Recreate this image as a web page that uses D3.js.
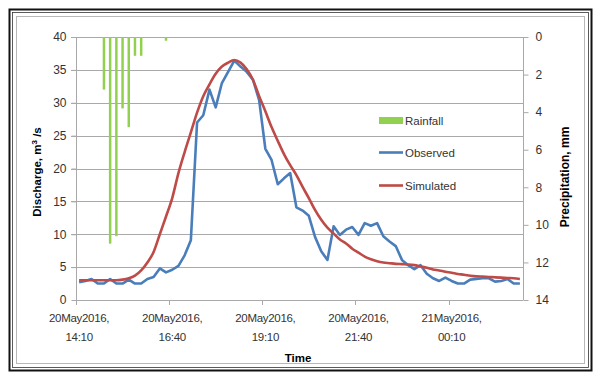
<!DOCTYPE html>
<html><head><meta charset="utf-8">
<script src="https://cdn.jsdelivr.net/npm/d3@7"></script>
<style>
html,body{margin:0;padding:0;background:#fff;}
svg{display:block;}
text{font-family:"Liberation Sans",Arial,sans-serif;}
</style></head>
<body>
<svg id="c" width="596" height="374"></svg>
<script>
// ---- data ----
const observed = [2.7,2.9,3.2,2.5,2.5,3.2,2.5,2.5,3.1,2.5,2.5,3.2,3.5,4.8,4.2,4.6,5.2,6.8,9.1,
  27,28.1,32,29.3,33,34.7,36.4,35.5,34.7,33.5,30.4,23,21.3,17.6,18.5,19.3,14.1,
  13.6,12.8,9.6,7.4,6.1,11.2,9.9,10.7,11.1,9.9,11.7,11.3,11.7,9.7,8.9,8.2,6.1,5.3,
  4.7,5.3,4.0,3.3,2.9,3.4,2.9,2.5,2.5,3.1,3.2,3.3,3.3,2.8,2.9,3.2,2.5,2.5];
const simulated = [3.0,3.0,3.0,3.0,3.0,3.0,3.0,3.1,3.3,3.7,4.5,5.7,7.3,10,12.7,15.5,19.3,22.5,25.5,
  28.5,31,32.8,34.4,35.5,36.1,36.5,36.1,35.1,33.5,31,28.7,26.3,24.2,22.2,20.5,19,
  17.2,15.5,13.7,12.2,11,10.1,9.2,8.6,7.8,7.2,6.6,6.2,5.9,5.7,5.6,5.5,5.45,5.4,
  5.3,5.1,4.9,4.65,4.5,4.3,4.15,3.95,3.85,3.7,3.6,3.55,3.5,3.45,3.4,3.35,3.3,3.2];
const rainfall = [0,0,0,0,2.8,11,10.6,3.8,4.8,1,1,0,0,0,0.2,0,0,0,0,
  0,0,0,0,0,0,0,0,0,0,0,0,0,0,0,0,0,
  0,0,0,0,0,0,0,0,0,0,0,0,0,0,0,0,0,0,
  0,0,0,0,0,0,0,0,0,0,0,0,0,0,0,0,0,0];
const xTickIdx = [0,15,30,45,60];
const xTickLabels = [["20May2016,","14:10"],["20May2016,","16:40"],["20May2016,","19:10"],["20May2016,","21:40"],["21May2016,","00:10"]];
const leftTicks = [0,5,10,15,20,25,30,35,40];
const rightTicks = [0,2,4,6,8,10,12,14];
const seriesNames = ["Rainfall","Observed","Simulated"];

// ---- layout ----
const svg = d3.select("#c");
const L = 76, R = 523, T = 37, B = 300;
const FS = "11.5px";
const cats = d3.range(observed.length);
const xb = d3.scaleBand().domain(cats).range([L, R]).paddingInner(0.6).paddingOuter(0.3);
const step = (R - L) / cats.length;
const xc = i => L + (i + 0.5) * step;
const yL = d3.scaleLinear().domain([0, 40]).range([B, T]);
const yR = d3.scaleLinear().domain([0, 14]).range([T, B]);

const colors = {rain:"#92D050", obs:"#4A7EBB", sim:"#BE4B48"};

// frames
svg.append("rect").attr("x",9.5).attr("y",9.5).attr("width",582).attr("height",361)
  .attr("fill","none").attr("stroke","#111").attr("stroke-width",2);
svg.append("rect").attr("x",12.5).attr("y",12.5).attr("width",576).attr("height",355)
  .attr("fill","none").attr("stroke","#333").attr("stroke-width",0.8);
svg.append("rect").attr("x",16.5).attr("y",16.5).attr("width",568).attr("height",347)
  .attr("fill","none").attr("stroke","#b8b8b8").attr("stroke-width",1);

// gridlines
svg.append("g").selectAll("line").data(leftTicks.filter(d=>d>0)).join("line")
  .attr("x1",L-5).attr("x2",R).attr("y1",d=>Math.round(yL(d))+0.5).attr("y2",d=>Math.round(yL(d))+0.5)
  .attr("stroke","#a9a9a9").attr("stroke-width",1);

// left axis
const gl = svg.append("g").attr("transform",`translate(${L+0.5},0)`)
  .call(d3.axisLeft(yL).tickValues(leftTicks).tickSize(5).tickPadding(5));
gl.select(".domain").attr("stroke","#a9a9a9").attr("d",`M0,${T}V${B}`);
gl.selectAll(".tick line").attr("stroke","#a9a9a9");
gl.selectAll(".tick text").attr("fill","#333").style("font-size","12px")
  .style("font-family",'"Liberation Sans",Arial,sans-serif');

// right axis
const gr = svg.append("g").attr("transform",`translate(${R+0.5},0)`)
  .call(d3.axisRight(yR).tickValues(rightTicks).tickSize(5).tickPadding(7));
gr.select(".domain").attr("stroke","#a9a9a9").attr("d",`M0,${T}V${B}`);
gr.selectAll(".tick line").attr("stroke","#a9a9a9");
gr.selectAll(".tick text").attr("fill","#333").style("font-size","12px")
  .style("font-family",'"Liberation Sans",Arial,sans-serif');

// bottom axis
svg.append("line").attr("x1",L).attr("x2",R).attr("y1",B+0.5).attr("y2",B+0.5).attr("stroke","#a9a9a9");
svg.append("g").selectAll("line").data(xTickIdx).join("line")
  .attr("x1",d=>Math.round(L+d*step)+0.5).attr("x2",d=>Math.round(L+d*step)+0.5)
  .attr("y1",B).attr("y2",B+5).attr("stroke","#a9a9a9");
const xl = svg.append("g").selectAll("text").data(xTickIdx).join("text")
  .attr("x",d=>xc(d)).attr("y",322).attr("text-anchor","middle")
  .attr("fill","#333").style("font-size",FS).style("letter-spacing","-0.3px");
xl.append("tspan").attr("x",d=>xc(d)).attr("dy",0).text((d,i)=>xTickLabels[i][0]);
xl.append("tspan").attr("x",d=>xc(d)).attr("dy",19).text((d,i)=>xTickLabels[i][1]);

// rainfall bars
svg.append("g").selectAll("rect").data(cats.filter(i=>rainfall[i]>0)).join("rect")
  .attr("x",i=>xb(i)).attr("width",xb.bandwidth())
  .attr("y",yR(0)).attr("height",i=>yR(rainfall[i])-yR(0))
  .attr("fill",colors.rain);

// lines
svg.append("path").datum(observed)
  .attr("d",d3.line().x((d,i)=>xc(i)).y(d=>yL(d)))
  .attr("fill","none").attr("stroke",colors.obs).attr("stroke-width",2.6).attr("stroke-linejoin","round");
svg.append("path").datum(simulated)
  .attr("d",d3.line().x((d,i)=>xc(i)).y(d=>yL(d)).curve(d3.curveMonotoneX))
  .attr("fill","none").attr("stroke",colors.sim).attr("stroke-width",2.6);

// axis titles
svg.append("text").attr("transform","translate(41,172) rotate(-90)")
  .attr("text-anchor","middle").style("font-size","11.5px").style("font-weight","bold")
  .attr("fill","#000")
  .html('Discharge, m<tspan dy="-4" font-size="8px">3</tspan><tspan dy="4"> /s</tspan>');
svg.append("text").attr("transform","translate(569,177) rotate(-90)")
  .attr("text-anchor","middle").style("font-size","12px").style("font-weight","bold")
  .attr("fill","#000").text("Precipitation, mm");
svg.append("text").attr("x",298).attr("y",362).attr("text-anchor","middle")
  .style("font-size","11.5px").style("font-weight","bold").attr("fill","#000").text("Time");

// legend
const lg = svg.append("g");
lg.append("rect").attr("x",379).attr("y",117).attr("width",24).attr("height",7).attr("fill",colors.rain);
lg.append("line").attr("x1",379).attr("x2",403).attr("y1",152.5).attr("y2",152.5).attr("stroke",colors.obs).attr("stroke-width",2.6);
lg.append("line").attr("x1",379).attr("x2",403).attr("y1",185.5).attr("y2",185.5).attr("stroke",colors.sim).attr("stroke-width",2.6);
lg.selectAll("text").data(seriesNames).join("text")
  .attr("x",405).attr("y",(d,i)=>[125,157,190][i]).attr("fill","#333")
  .style("font-size",FS).text(d=>d);
</script>
</body></html>
